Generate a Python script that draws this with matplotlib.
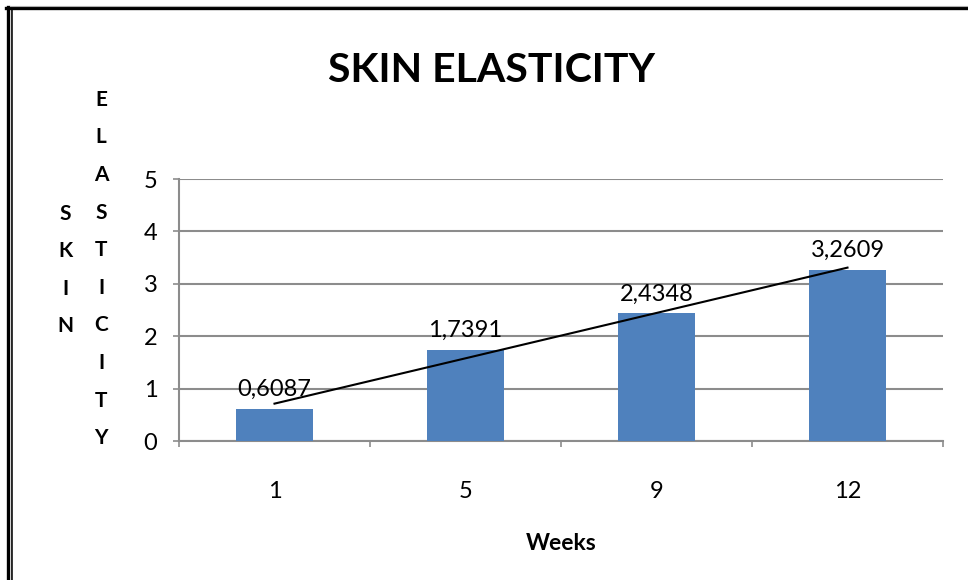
import matplotlib
matplotlib.use("Agg")
import matplotlib.pyplot as plt
from matplotlib.lines import Line2D
from matplotlib.ticker import FixedLocator
import numpy as np

plt.rcParams['font.family'] = ['Lato', 'DejaVu Sans']

categories = ["1", "5", "9", "12"]
values = [0.6087, 1.7391, 2.4348, 3.2609]
value_labels = ["0,6087", "1,7391", "2,4348", "3,2609"]
title = "SKIN ELASTICITY"
xlabel = "Weeks"
ylabel_words = ["SKIN", "ELASTICITY"]

W, H = 968, 580
fig = plt.figure(figsize=(W / 100, H / 100), dpi=100)
fig.patch.set_facecolor("white")

ax = fig.add_axes([179 / W, 1 - 441 / H, (943 - 179) / W, (441 - 179) / H])
x = np.arange(len(categories))
bar_color = "#4F81BD"
grid_color = "#8C8C8C"

ax.bar(x, values, width=0.40, color=bar_color, zorder=3)

# linear trendline (least squares over category index)
coef = np.polyfit(x, values, 1)
ax.plot(x[[0, -1]], np.polyval(coef, x[[0, -1]]), color="black", lw=1.5, zorder=4)

for xi, v, lab in zip(x, values, value_labels):
    ax.annotate(lab, (xi, v), xytext=(0, 9.4), textcoords="offset points",
                ha="center", va="baseline", fontsize=17, color="black", zorder=5)

ax.set_xlim(-0.5, len(categories) - 0.5)
ax.set_ylim(0, 5)
ax.set_yticks(range(0, 6))
ax.set_yticklabels([str(i) for i in range(0, 6)])
ax.yaxis.grid(True, color=grid_color, lw=1.5, zorder=0)
ax.set_axisbelow(True)

ax.set_xticks(x)
ax.set_xticklabels(categories)
ax.xaxis.set_minor_locator(FixedLocator(np.arange(-0.5, len(categories), 1.0)))

for s in ["top", "right"]:
    ax.spines[s].set_visible(False)
for s in ["left", "bottom"]:
    ax.spines[s].set_color(grid_color)
    ax.spines[s].set_linewidth(1.5)

ax.tick_params(axis="x", which="major", length=0, pad=29, labelsize=17)
ax.tick_params(axis="x", which="minor", length=4.5, width=1.2, color=grid_color, direction="out")
ax.tick_params(axis="y", which="major", length=4.5, width=1.2, color=grid_color,
               direction="out", pad=11, labelsize=17)

# Title
fig.text(492 / W, 1 - 70 / H, title, ha="center", va="center",
         fontsize=29.5, fontweight="bold", color="black")
# x label
fig.text(561 / W, 1 - 543 / H, xlabel, ha="center", va="center",
         fontsize=16.5, fontweight="bold", color="black")
# vertical stacked y label words
fig.text(65 / W, 1 - 270 / H, "\n".join(ylabel_words[0]), ha="center", va="center",
         fontsize=15, fontweight="bold", linespacing=2.1, color="black")
fig.text(101 / W, 1 - 269 / H, "\n".join(ylabel_words[1]), ha="center", va="center",
         fontsize=15, fontweight="bold", linespacing=2.1, color="black")

# frame (double line on left, top line)
def fx(px):
    return px / W
def fy(py):
    return 1 - py / H

fig.add_artist(Line2D([fx(7.5), fx(7.5)], [fy(7), fy(H)], color="black", lw=2.4, transform=fig.transFigure))
fig.add_artist(Line2D([fx(10.5), fx(10.5)], [fy(10), fy(H)], color="#A0A0A0", lw=0.8, transform=fig.transFigure))
fig.add_artist(Line2D([fx(11.8), fx(11.8)], [fy(10), fy(H)], color="black", lw=1.1, transform=fig.transFigure))
fig.add_artist(Line2D([fx(6), fx(W)], [fy(8), fy(8)], color="black", lw=2.4, transform=fig.transFigure))
fig.add_artist(Line2D([fx(10), fx(W)], [fy(5.5), fy(5.5)], color="#B0B0B0", lw=0.8, transform=fig.transFigure))

fig.savefig("out.png", dpi=100, facecolor="white")
